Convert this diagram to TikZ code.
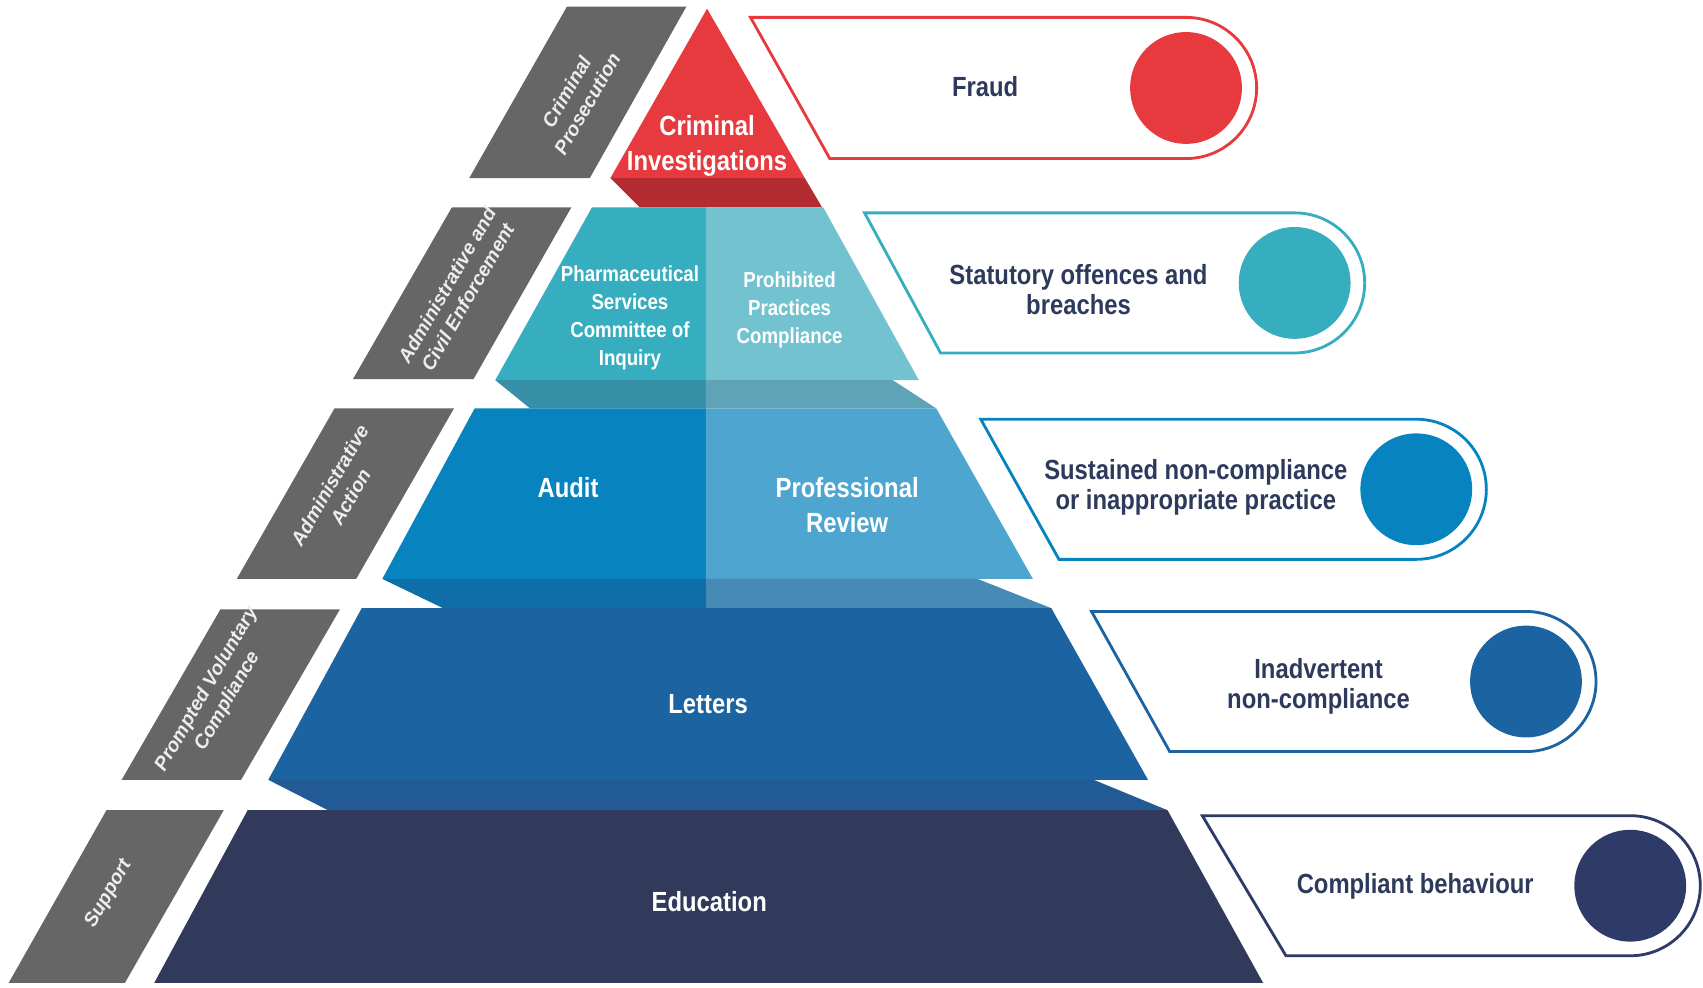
\documentclass[tikz,border=0pt]{standalone}
\usepackage{fontspec}
\newfontfamily\condf[FakeStretch=0.86]{Liberation Sans}
\newfontfamily\labf{Liberation Sans}
\definecolor{cred}{HTML}{E63A3F}
\definecolor{cdred}{HTML}{B42C31}
\definecolor{tealL}{HTML}{36AEBF}
\definecolor{tealR}{HTML}{72C3CF}
\definecolor{tealbL}{HTML}{3790A8}
\definecolor{tealbR}{HTML}{5FA3B6}
\definecolor{blueL}{HTML}{0784C0}
\definecolor{blueR}{HTML}{4EA6D0}
\definecolor{bluebL}{HTML}{0F6EA8}
\definecolor{bluebR}{HTML}{468AB6}
\definecolor{letc}{HTML}{1B63A1}
\definecolor{letb}{HTML}{215A94}
\definecolor{educ}{HTML}{323A5C}
\definecolor{gbox}{HTML}{666666}
\definecolor{navyt}{HTML}{2E3A5C}
\definecolor{compc}{HTML}{2E3B68}
\newcommand\rbox[7]{%
  \draw[line width=2.6pt, draw=#7, fill=white] (#2,-#3) -- (#6,-#3)
    arc[start angle=90,end angle=-90,radius={(#5-#3)/2}] -- (#4,-#5) -- cycle;
  \node[circle, fill=#7, minimum size=103pt, inner sep=0pt] (#1) at (#6,{-(#3+#5)/2}) {};
}
\begin{document}
\begin{tikzpicture}[x=1pt,y=1pt,
  pyrtext/.style={text=white,align=center,font={\condf\bfseries\fontsize{25.5}{32}\selectfont}},
  pyrsmall/.style={text=white,align=center,font={\condf\bfseries\fontsize{20}{25.8}\selectfont}},
  boxtext/.style={text=navyt,align=center,font={\condf\bfseries\fontsize{25.5}{27.5}\selectfont}},
  labtext/.style={text=white!93!black,align=center,rotate=60,font={\labf\bfseries\itshape\fontsize{18}{22}\selectfont}}]
\fill[white] (0,-909) rectangle (1568,0);
\useasboundingbox (0,-909) rectangle (1568,0);

% gray labels
\fill[gbox] (522,-6) -- (632,-6) -- (543,-164) -- (432,-164) -- cycle;
\fill[gbox] (416,-191) -- (526,-191) -- (436,-349) -- (325,-349) -- cycle;
\fill[gbox] (308,-376) -- (418,-376) -- (328,-533) -- (218,-533) -- cycle;
\fill[gbox] (203,-561) -- (313,-561) -- (222,-718) -- (112,-718) -- cycle;
\fill[gbox] (98,-746) -- (206,-746) -- (115,-905) -- (8,-905) -- cycle;
\node[labtext] (lcp) at (531,-90) {Criminal\\Prosecution};
\node[labtext] (lac) at (421,-268) {Administrative and\\Civil Enforcement};
\node[labtext] (laa) at (313,-452) {Administrative\\Action};
\node[labtext] (lpv) at (200,-640) {Prompted Voluntary\\Compliance};
\node[labtext] (lsu) at (100,-823) {Support};

% pyramid
\fill[cred] (651,-8) -- (741,-164) -- (562,-164) -- cycle;
\fill[cdred] (562,-164) -- (741,-164) -- (757,-191) -- (589,-191) -- cycle;

\fill[tealL] (545,-191) -- (650,-191) -- (650,-350) -- (456,-350) -- cycle;
\fill[tealR] (650,-191) -- (758,-191) -- (846,-350) -- (650,-350) -- cycle;
\fill[tealbL] (456,-350) -- (650,-350) -- (650,-376) -- (488,-376) -- cycle;
\fill[tealbR] (650,-350) -- (822,-350) -- (862,-376) -- (650,-376) -- cycle;

\fill[blueL] (437,-376) -- (650,-376) -- (650,-533) -- (352,-533) -- cycle;
\fill[blueR] (650,-376) -- (862,-376) -- (951,-533) -- (650,-533) -- cycle;
\fill[bluebL] (352,-533) -- (650,-533) -- (650,-560) -- (408,-560) -- cycle;
\fill[bluebR] (650,-533) -- (900,-533) -- (968,-560) -- (650,-560) -- cycle;

\fill[letc] (333,-560) -- (968,-560) -- (1057,-718) -- (247,-718) -- cycle;
\fill[letb] (247,-718) -- (1007,-718) -- (1075,-746) -- (302,-746) -- cycle;

\fill[educ] (228,-746) -- (1075,-746) -- (1163,-905) -- (142,-905) -- cycle;

\node[pyrtext] (ci) at (651,-134) {Criminal\\Investigations};
\node[pyrsmall] (ps) at (580,-292.5) {Pharmaceutical\\Services\\Committee of\\Inquiry};
\node[pyrsmall] (pp) at (727,-285.5) {Prohibited\\Practices\\Compliance};
\node[pyrtext] (au) at (523,-449) {Audit};
\node[pyrtext] (pr) at (780,-465) {Professional\\Review};
\node[pyrtext] (le) at (652,-648) {Letters};
\node[pyrtext] (ed) at (653,-830) {Education};

% right boxes
\rbox{c1}{691}{16}{764}{146}{1092}{cred}
\rbox{c2}{796}{196}{866}{325}{1192}{tealL}
\rbox{c3}{903}{386}{975}{515}{1304}{blueL}
\rbox{c4}{1005}{563}{1077}{692}{1405}{letc}
\rbox{c5}{1107}{751}{1184}{880}{1501}{compc}
\node[boxtext] (t1) at (907,-80) {Fraud};
\node[boxtext] (t2) at (993,-267) {Statutory offences and\\breaches};
\node[boxtext] (t3) at (1101,-449) {Sustained non-compliance\\or inappropriate practice};
\node[boxtext] (t4) at (1214,-632) {Inadvertent\\non-compliance};
\node[boxtext] (t5) at (1303,-816) {Compliant behaviour};
\end{tikzpicture}
\end{document}
